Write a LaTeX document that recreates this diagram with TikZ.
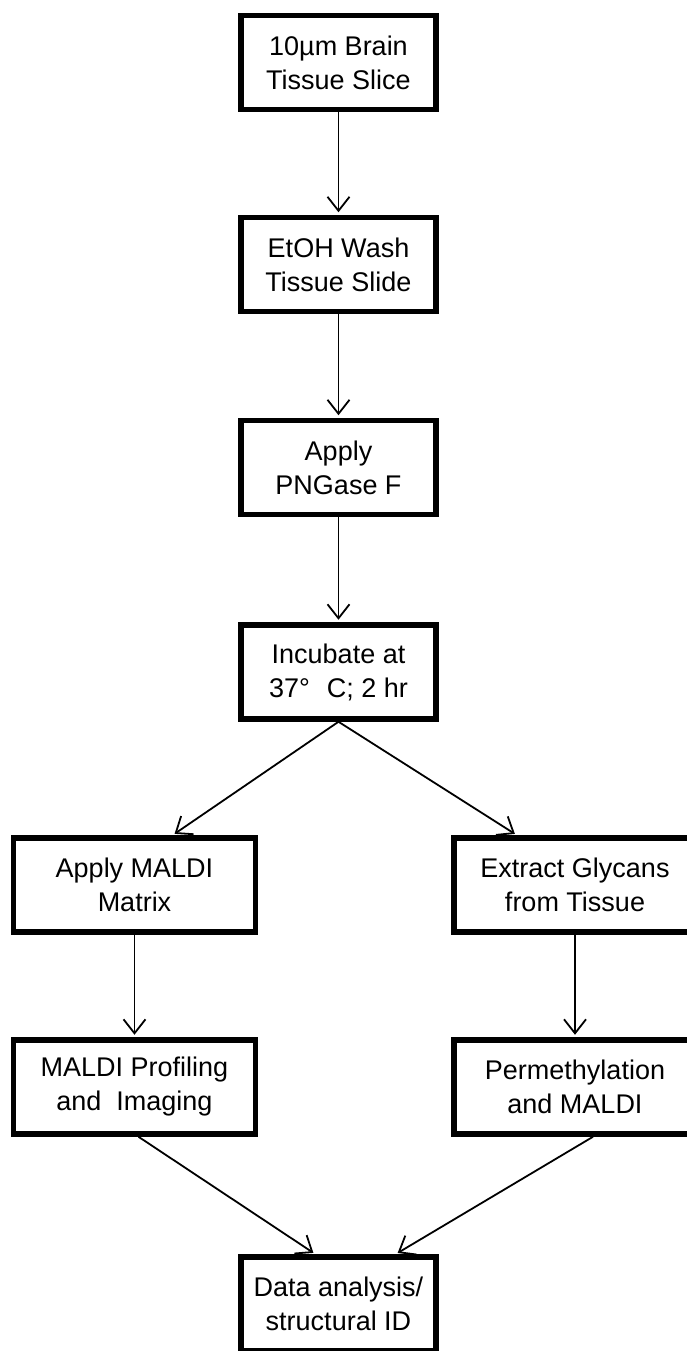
\documentclass[tikz,border=0pt]{standalone}
\usepackage{fontspec}
\setmainfont{Liberation Sans}
\usetikzlibrary{arrows.meta}
\begin{document}
\begin{tikzpicture}[x=1pt,y=1pt,
    caja/.style={draw, line width=5.5pt, minimum height=94pt, align=center,
        font=\fontsize{27}{34}\selectfont},
    flecha/.style={-{Straight Barb[length=14pt,width=22pt]}, line width=1.8pt, shorten >=2.5pt}]
        \useasboundingbox (0,0) rectangle (687,-1351);

        % Columna central
        \foreach \y/\nombre/\val in {
            62.5/corte/10µm Brain\\Tissue Slice,
            264.5/lavado/EtOH Wash\\Tissue Slide,
            467.5/pngasa/Apply\\PNGase F,
            672/incubar/Incubate at\\37°\hspace{17pt}C; 2 hr
            } {
            \node[caja, minimum width=195pt] (\nombre) at (338.5,-\y) {\val};
        }

        % Rama izquierda y rama derecha
        \foreach \y/\izq/\der/\ti/\td in {
            885/matriz/extraer/Apply MALDI\\Matrix/Extract Glycans\\from Tissue,
            1087/perfil/permet/MALDI Profiling\\and~ Imaging/Permethylation\\and MALDI
            } {
            \node[caja, minimum width=242pt] (\izq) at (134.5,-\y) {\ti};
            \node[caja, minimum width=242pt] (\der) at (575,-\y) {\td};
        }

        \node[caja, minimum width=195pt] (datos) at (338.5,-1304) {Data analysis/\\structural ID};

        % Flechas
        \draw[flecha] (corte) -- (lavado);
        \draw[flecha] (lavado) -- (pngasa);
        \draw[flecha] (pngasa) -- (incubar);
        \draw[flecha] (incubar.south) -- ([xshift=38pt]matriz.north);
        \draw[flecha] (incubar.south) -- ([xshift=-58pt]extraer.north);
        \draw[flecha] (matriz) -- (perfil);
        \draw[flecha] (extraer) -- (permet);
        \draw[flecha] ([xshift=4pt]perfil.south) -- ([xshift=-23pt]datos.north);
        \draw[flecha] ([xshift=18pt]permet.south) -- ([xshift=57pt]datos.north);
    \end{tikzpicture}
\end{document}
